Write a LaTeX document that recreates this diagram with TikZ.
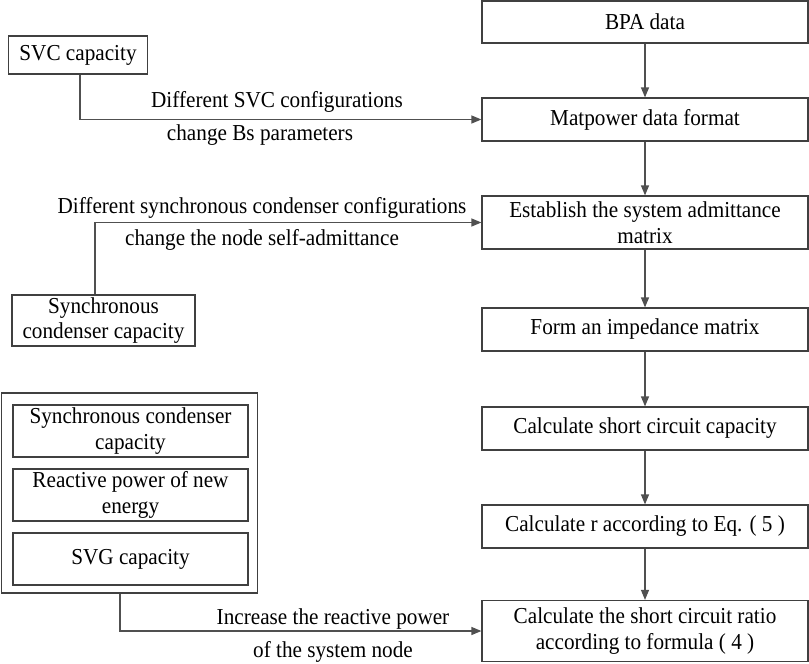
\documentclass[tikz,border=0pt]{standalone}
\usepackage{fontspec}
\setmainfont[FakeStretch=0.93]{Liberation Serif}
\usetikzlibrary{arrows.meta}
\definecolor{boxline}{HTML}{404040}
\definecolor{arrline}{HTML}{505050}
\tikzset{
  box/.style={draw=boxline, line width=1.2pt, rectangle, inner sep=0pt, align=center, font=\fontsize{22.8}{25.5}\selectfont},
  lbl/.style={inner sep=0pt, align=center, font=\fontsize{22.8}{25.5}\selectfont},
  flow/.style={draw=arrline, line width=1.2pt, -{Triangle[length=10pt,width=8pt]}},
}
\begin{document}
\begin{tikzpicture}[x=1pt,y=-1pt]
\useasboundingbox (0,0) rectangle (809,664);
% right column
\node[box, minimum width=326pt, minimum height=42pt] (bpa) at (645,22) {BPA data};
\node[box, minimum width=326pt, minimum height=43pt] (mat) at (645,119.5) {Matpower data format};
\node[box, minimum width=326pt, minimum height=53pt] (est) at (645,222.5) {Establish the system admittance\\matrix};
\node[box, minimum width=326pt, minimum height=43pt] (form) at (645,329.5) {Form an impedance matrix};
\node[box, minimum width=326pt, minimum height=43pt] (calc) at (645,428.5) {Calculate short circuit capacity};
\node[box, minimum width=326pt, minimum height=43pt] (calcr) at (645,526.5) {Calculate r according to Eq. ( 5 )};
\node[box, minimum width=326pt, minimum height=61pt] (ratio) at (645,631) {Calculate the short circuit ratio\\according to formula ( 4 )};
% left side
\node[box, minimum width=139pt, minimum height=38pt] (svc) at (78,55) {SVC capacity};
\node[box, minimum width=183pt, minimum height=51pt] (syn) at (103.5,320.5) {Synchronous\\condenser capacity};
\node[box, minimum width=256pt, minimum height=200pt] (grp) at (129.5,493) {};
\node[box, minimum width=235pt, minimum height=52pt] (g1) at (130.5,431) {Synchronous condenser\\capacity};
\node[box, minimum width=235pt, minimum height=52pt] (g2) at (130.5,495) {Reactive power of new\\energy};
\node[box, minimum width=235pt, minimum height=52pt] (g3) at (130.5,559) {SVG capacity};
% labels
\node[lbl] (l1a) at (277,102) {Different SVC configurations};
\node[lbl] (l1b) at (260,135) {change Bs parameters};
\node[lbl] (l2a) at (262,208) {Different synchronous condenser configurations};
\node[lbl] (l2b) at (262,240) {change the node self-admittance};
\node[lbl] (l3a) at (333,619) {Increase the reactive power};
\node[lbl] (l3b) at (333,652) {of the system node};
% connectors
\draw[flow] (bpa) -- (mat);
\draw[flow] (mat) -- (est);
\draw[flow] (est) -- (form);
\draw[flow] (form) -- (calc);
\draw[flow] (calc) -- (calcr);
\draw[flow] (calcr) -- (ratio);
\draw[flow] ([xshift=2pt]svc.south) |- (mat.west);
\draw[flow] ([xshift=-8.5pt]syn.north) |- (est.west);
\draw[flow] ([xshift=-9.5pt]grp.south) |- (ratio.west);
\end{tikzpicture}
\end{document}
